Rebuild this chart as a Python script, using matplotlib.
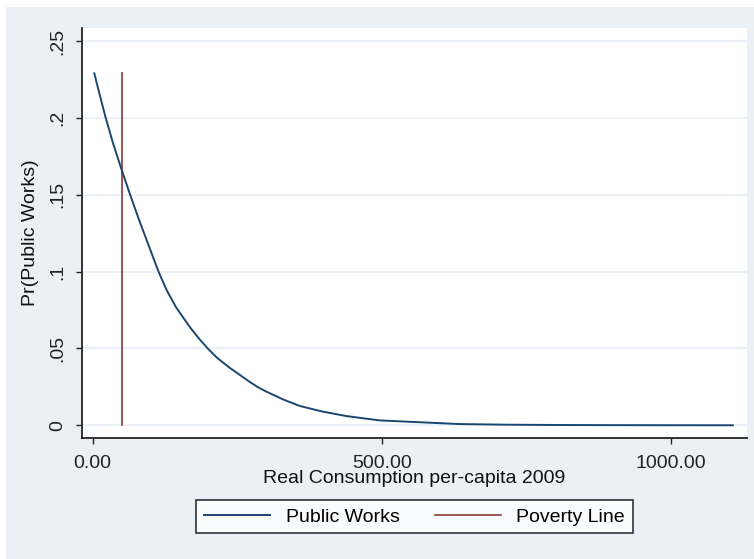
import numpy as np
import matplotlib.pyplot as plt
from matplotlib.patches import Rectangle

# values
consumption = [3, 10, 22, 35, 50, 64, 80, 90, 100, 114, 128, 144, 155, 170, 185,
               199, 215, 235, 250, 271, 285, 300, 329, 358, 398, 439, 496, 565,
               635, 716, 800, 900, 1000, 1107]
pr_public_works = [0.229, 0.2185, 0.201, 0.184, 0.1665, 0.151, 0.134, 0.124, 0.114,
                   0.100, 0.088, 0.077, 0.071, 0.063, 0.056, 0.050, 0.044, 0.038,
                   0.034, 0.0284, 0.025, 0.022, 0.0169, 0.0126, 0.0089, 0.0060,
                   0.0032, 0.0020, 0.0008, 0.0004, 0.0002, 0.0001, 0.00005, 0.00002]
poverty_line = 50
poverty_top = 0.229

yticks = [0, 0.05, 0.1, 0.15, 0.2, 0.25]
ytick_labels = ["0", ".05", ".1", ".15", ".2", ".25"]
xticks = [0, 500, 1000]
xtick_labels = ["0.00", "500.00", "1000.00"]

plt.rcParams['font.family'] = ['Liberation Sans', 'DejaVu Sans']
fs = 14

fig = plt.figure(figsize=(7.54, 5.59), dpi=100)
fig.patch.set_facecolor('white')
# graph region (screenshot has a thin white margin top/left)
fig.patches.append(Rectangle((6 / 754, 0), 1, 1 - 7 / 559, transform=fig.transFigure,
                             facecolor='#eaf0f5', edgecolor='none', zorder=-10))

ax = fig.add_axes([82 / 754, 121 / 559, 665 / 754, 410 / 559])
ax.set_facecolor('white')

for yv in yticks:
    ax.axhline(yv, color='#e8eff5', lw=1.2, zorder=1)

ax.plot(consumption, pr_public_works, color='#1a476f', lw=1.4, label='Public Works', zorder=3)
ax.plot([poverty_line, poverty_line], [0, poverty_top], color='#90353b', lw=1.2,
        label='Poverty Line', zorder=2)

ax.set_xlim(-18.3, 1131.5)
ax.set_ylim(-0.00826, 0.2585)

ax.set_yticks(yticks)
ax.set_yticklabels(ytick_labels, rotation=90, va='center')
ax.set_xticks(xticks)
ax.set_xticklabels(xtick_labels)

ax.tick_params(axis='both', direction='out', length=4, width=1, colors='#222222',
               labelsize=fs, pad=7)
ax.tick_params(axis='x', pad=8)
for s in ['top', 'right']:
    ax.spines[s].set_visible(False)
for s in ['left', 'bottom']:
    ax.spines[s].set_linewidth(1.3)
    ax.spines[s].set_color('#222222')

ax.set_xlabel('Real Consumption per-capita 2009', fontsize=fs, labelpad=-1, color='#111111')
ax.set_ylabel('Pr(Public Works)', fontsize=fs, labelpad=8, color='#111111')

leg = ax.legend(loc='upper center', bbox_to_anchor=(0.5, -0.128), ncol=2, frameon=True,
                fancybox=False, edgecolor='black', facecolor='white', fontsize=fs,
                handlelength=3.4, columnspacing=1.8, handletextpad=0.8,
                borderpad=0.4)
leg.get_frame().set_linewidth(1.2)

fig.savefig('out.png', dpi=100, facecolor=fig.get_facecolor())
